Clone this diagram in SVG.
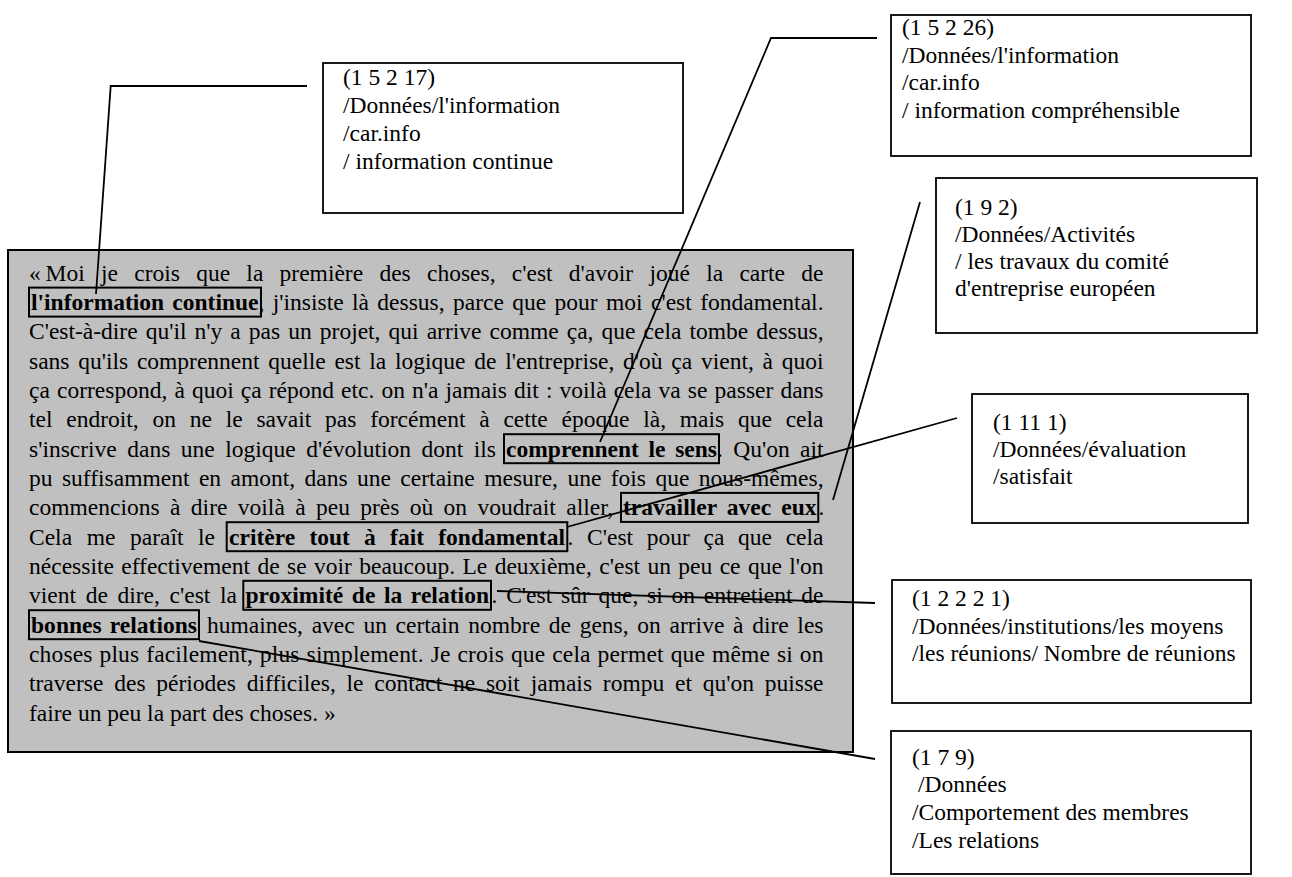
<svg xmlns="http://www.w3.org/2000/svg" width="1292" height="877" viewBox="0 0 1292 877">
<style>
.t{font-family:"Liberation Serif","Times New Roman",serif;font-size:23.5px;fill:#000}
.b{font-family:"Liberation Serif","Times New Roman",serif;font-size:23.5px;font-weight:bold;fill:#000}
.box{fill:#fff;stroke:#000;stroke-width:1.8}
.hl{fill:none;stroke:#000;stroke-width:2}
.con{fill:none;stroke:#000;stroke-width:1.8}
</style>
<rect width="1292" height="877" fill="#fff"/>
<g id="quote">
<rect x="8" y="250" width="845" height="502" fill="#c0c0c0" stroke="#000" stroke-width="2"/>
<text class="t" x="29" y="280.7">«</text>
<text class="t" x="45.5" y="280.7" textLength="778" lengthAdjust="spacing" word-spacing="10.4">Moi je crois que la première des choses, c'est d'avoir joué la carte de</text>
<text class="b" x="31" y="310" textLength="227.5" lengthAdjust="spacing" word-spacing="2.3">l'information continue</text>
<text class="t" x="258.5" y="310" textLength="565" lengthAdjust="spacing" word-spacing="2.5">, j'insiste là dessus, parce que pour moi c'est fondamental.</text>
<text class="t" x="29" y="339.4" textLength="794.5" lengthAdjust="spacing" word-spacing="2.2">C'est-à-dire qu'il n'y a pas un projet, qui arrive comme ça, que cela tombe dessus,</text>
<text class="t" x="29" y="368.7" textLength="794.5" lengthAdjust="spacing" word-spacing="2.9">sans qu'ils comprennent quelle est la logique de l'entreprise, d'où ça vient, à quoi</text>
<text class="t" x="29" y="398" textLength="794.5" lengthAdjust="spacing" word-spacing="1.2">ça correspond, à quoi ça répond etc. on n'a jamais dit : voilà cela va se passer dans</text>
<text class="t" x="29" y="427.3" textLength="794.5" lengthAdjust="spacing" word-spacing="7.9">tel endroit, on ne le savait pas forcément à cette époque là, mais que cela</text>
<text class="t" x="29" y="456.6" textLength="467" lengthAdjust="spacing" word-spacing="4.6">s'inscrive dans une logique d'évolution dont ils</text>
<text class="b" x="506" y="456.6" textLength="211" lengthAdjust="spacing" word-spacing="3.7">comprennent le sens</text>
<text class="t" x="717" y="456.6" textLength="106.5" lengthAdjust="spacing" word-spacing="4.5">. Qu'on ait</text>
<text class="t" x="29" y="486" textLength="794.5" lengthAdjust="spacing" word-spacing="3.5">pu suffisamment en amont, dans une certaine mesure, une fois que nous-mêmes,</text>
<text class="t" x="29" y="515.3" textLength="584" lengthAdjust="spacing" word-spacing="4.4">commencions à dire voilà à peu près où on voudrait aller,</text>
<text class="b" x="623" y="515.3" textLength="193.5" lengthAdjust="spacing" word-spacing="4.1">travailler avec eux</text>
<text class="t" x="818.5" y="515.3">.</text>
<text class="t" x="29" y="544.6" textLength="186" lengthAdjust="spacing" word-spacing="8.7">Cela me paraît le</text>
<text class="b" x="229" y="544.6" textLength="336" lengthAdjust="spacing" word-spacing="8.3">critère tout à fait fondamental</text>
<text class="t" x="567.5" y="544.6" textLength="256" lengthAdjust="spacing" word-spacing="7.8">. C'est pour ça que cela</text>
<text class="t" x="29" y="573.9" textLength="794.5" lengthAdjust="spacing" word-spacing="1.5">nécessite effectivement de se voir beaucoup. Le deuxième, c'est un peu ce que l'on</text>
<text class="t" x="29" y="603.2" textLength="208" lengthAdjust="spacing" word-spacing="3.8">vient de dire, c'est la</text>
<text class="b" x="245.5" y="603.2" textLength="243.5" lengthAdjust="spacing" word-spacing="2.6">proximité de la relation</text>
<text class="t" x="491.5" y="603.2" textLength="332" lengthAdjust="spacing" word-spacing="2.9">. C'est sûr que, si on entretient de</text>
<text class="b" x="31" y="632.6" textLength="166" lengthAdjust="spacing" word-spacing="2.1">bonnes relations</text>
<text class="t" x="207" y="632.6" textLength="616.5" lengthAdjust="spacing" word-spacing="2.8">humaines, avec un certain nombre de gens, on arrive à dire les</text>
<text class="t" x="29" y="661.9" textLength="794.5" lengthAdjust="spacing" word-spacing="0.9">choses plus facilement, plus simplement. Je crois que cela permet que même si on</text>
<text class="t" x="29" y="691.2" textLength="794.5" lengthAdjust="spacing" word-spacing="4.9">traverse des périodes difficiles, le contact ne soit jamais rompu et qu'on puisse</text>
<text class="t" x="29" y="720.5">faire un peu la part des choses. »</text>
<rect class="hl" x="29" y="287.6" width="232" height="29"/>
<rect class="hl" x="504" y="434.2" width="215" height="29"/>
<rect class="hl" x="621" y="492.9" width="197.3" height="29"/>
<rect class="hl" x="226.7" y="522.2" width="340.6" height="29"/>
<rect class="hl" x="243.3" y="580.8" width="247.7" height="29"/>
<rect class="hl" x="29" y="610.2" width="170" height="29"/>
</g>
<g id="n1" transform="translate(323,63)">
<rect class="box" x="0" y="0" width="360" height="150"/>
<text class="t" x="20" y="22">(1 5 2 17)</text>
<text class="t" x="20" y="50">/Données/l'information</text>
<text class="t" x="20" y="78">/car.info</text>
<text class="t" x="20" y="106">/ information continue</text>
</g>
<g id="n2" transform="translate(891,15)">
<rect class="box" x="0" y="0" width="360" height="141"/>
<text class="t" x="11" y="20">(1 5 2 26)</text>
<text class="t" x="11" y="47.5">/Données/l'information</text>
<text class="t" x="11" y="75">/car.info</text>
<text class="t" x="11" y="102.5">/ information compréhensible</text>
</g>
<g id="n3" transform="translate(936,178)">
<rect class="box" x="0" y="0" width="321" height="155"/>
<text class="t" x="19" y="37">(1 9 2)</text>
<text class="t" x="19" y="64">/Données/Activités</text>
<text class="t" x="19" y="91">/ les travaux du comité</text>
<text class="t" x="19" y="118">d'entreprise européen</text>
</g>
<g id="n4" transform="translate(972,394)">
<rect class="box" x="0" y="0" width="276" height="129"/>
<text class="t" x="21" y="36">(1 11 1)</text>
<text class="t" x="21" y="63">/Données/évaluation</text>
<text class="t" x="21" y="90">/satisfait</text>
</g>
<g id="n5" transform="translate(892,580)">
<rect class="box" x="0" y="0" width="359" height="123"/>
<text class="t" x="20" y="26">(1 2 2 2 1)</text>
<text class="t" x="20" y="54">/Données/institutions/les moyens</text>
<text class="t" x="20" y="81">/les réunions/ Nombre de réunions</text>
</g>
<g id="n6" transform="translate(891,731)">
<rect class="box" x="0" y="0" width="360" height="143"/>
<text class="t" x="21" y="34">(1 7 9)</text>
<text class="t" x="27" y="61">/Données</text>
<text class="t" x="21" y="89">/Comportement des membres</text>
<text class="t" x="21" y="117">/Les relations</text>
</g>
<g id="connectors">
<polyline class="con" points="307,86 110.7,86 96,294"/>
<polyline class="con" points="877,38 771,38 600,442"/>
<line class="con" x1="920" y1="202" x2="833" y2="500"/>
<line class="con" x1="957" y1="418" x2="567" y2="527"/>
<line class="con" x1="875" y1="603" x2="497" y2="591"/>
<line class="con" x1="875" y1="759" x2="199" y2="641"/>
</g>
</svg>
